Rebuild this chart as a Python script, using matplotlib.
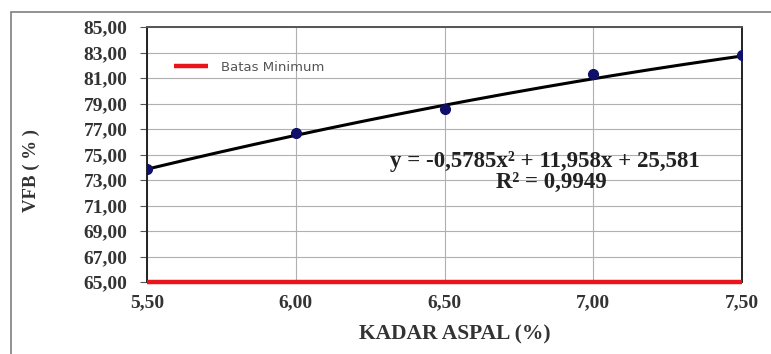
import numpy as np
import matplotlib
matplotlib.use('Agg')
from matplotlib import pyplot as plt
from matplotlib.patches import Rectangle

# data
kadar_aspal = [5.5, 6.0, 6.5, 7.0, 7.5]
vfb = [73.9, 76.7, 78.55, 81.3, 82.8]
fit_coef = [-0.5785, 11.958, 25.581]   # trendline shown on chart
r2 = 0.9949
batas_minimum = 65.0

x_ticks = [5.5, 6.0, 6.5, 7.0, 7.5]
y_ticks = [65, 67, 69, 71, 73, 75, 77, 79, 81, 83, 85]

W, H = 771, 354
fig = plt.figure(figsize=(W/100, H/100), dpi=100)

# outer frame (runs off the right / bottom of the picture)
fig.patches.append(Rectangle((11/W, -0.1), 1.2, 1.1 - 12/H,
                             transform=fig.transFigure, fill=False,
                             ec='#7f7f7f', lw=1.2, zorder=0))

ax = fig.add_axes([147/W, 1 - 282/H, (742-147)/W, (282-27)/H])

serif = dict(family='Liberation Serif', weight='bold')

xs = np.linspace(kadar_aspal[0], kadar_aspal[-1], 200)
ax.plot(xs, np.polyval(fit_coef, xs), color='black', lw=2.2, zorder=3)
ax.plot(kadar_aspal, vfb, 'o', color='#10106a', ms=7, zorder=4)
ax.plot([x_ticks[0], x_ticks[-1]], [batas_minimum, batas_minimum],
        color='#e8141c', lw=3.2, zorder=5, label='Batas Minimum',
        solid_capstyle='butt', clip_on=False)

ax.set_xlim(5.5, 7.5)
ax.set_ylim(65, 85)
ax.set_xticks(x_ticks)
ax.set_yticks(y_ticks)
fmt = lambda v: ('%.2f' % v).replace('.', ',')
ax.set_xticklabels([fmt(v) for v in x_ticks], fontsize=14, color='#333333', **serif)
ax.set_yticklabels([fmt(v) for v in y_ticks], fontsize=14, color='#333333', **serif)
ax.tick_params(axis='y', direction='out', length=5, width=0.8, color='#555555', pad=9)
ax.tick_params(axis='x', length=0, pad=9)

ax.grid(True, color='#b0b0b0', lw=0.8)
ax.set_axisbelow(True)
for s in ['left', 'right']:
    ax.spines[s].set_color('#222222')
    ax.spines[s].set_linewidth(1.4)
ax.spines['top'].set_color('#555555')
ax.spines['top'].set_linewidth(1.4)
ax.spines['bottom'].set_visible(False)

ax.set_xlabel('KADAR ASPAL (%)', fontsize=15.5, color='#333333', **serif)
ax.xaxis.set_label_coords((455 - 147) / 595, -(324 - 282) / 255)
ax.set_ylabel('VFB ( % )', fontsize=13.5, color='#333333', **serif)
ax.yaxis.set_label_coords((40 - 147) / 595, (282 - 171) / 255)

eq = 'y = %sx² + %sx + %s' % (str(fit_coef[0]).replace('.', ','),
                                str(fit_coef[1]).replace('.', ','),
                                str(fit_coef[2]).replace('.', ','))
ax.text(6.838, 74.45, eq, ha='center', va='center', fontsize=16.5,
        color='#222222', **serif)
ax.text(6.86, 72.8, 'R² = ' + str(r2).replace('.', ','), ha='center',
        va='center', fontsize=16.5, color='#222222', **serif)

leg = ax.legend(loc='upper left', bbox_to_anchor=(0.025, 0.915), frameon=False,
                handlelength=2.6, handletextpad=1.0,
                prop={'family': 'DejaVu Sans', 'size': 9.5})
for t in leg.get_texts():
    t.set_color('#555555')

fig.savefig('out.png', dpi=100)
